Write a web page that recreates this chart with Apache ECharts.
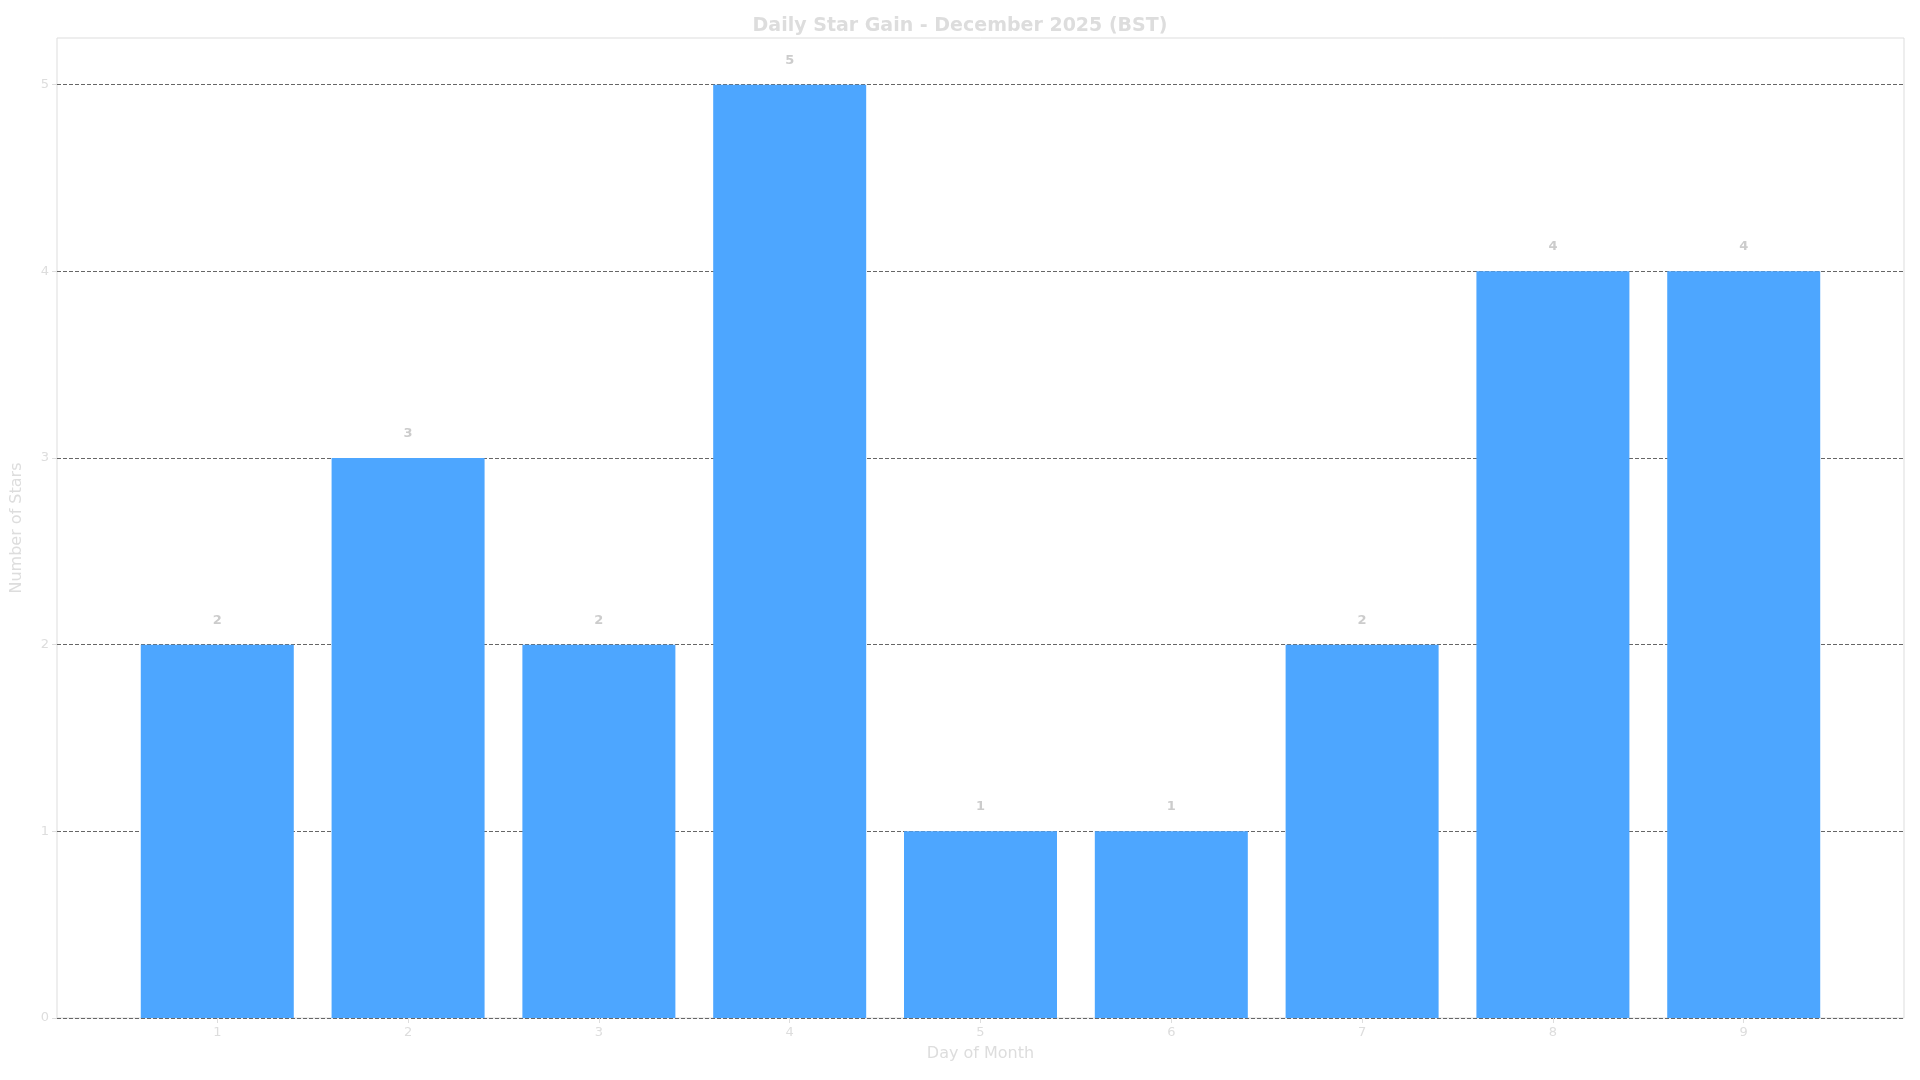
<!DOCTYPE html>
<html>
<head>
<meta charset="utf-8">
<script src="https://cdn.jsdelivr.net/npm/echarts@6/dist/echarts.min.js"></script>
<style>html,body{margin:0;padding:0;background:#fff}#app{width:1920px;height:1080px}</style>
</head>
<body>
<div id="app"></div>
<script>
var days = [1, 2, 3, 4, 5, 6, 7, 8, 9];
var stars = [2, 3, 2, 5, 1, 1, 2, 4, 4];
var yTicks = [0, 1, 2, 3, 4, 5];

var chart = echarts.init(document.getElementById('app'));
var option = {
    animation: false,
    backgroundColor: '#ffffff',
    title: {
        text: 'Daily Star Gain - December 2025 (BST)',
        left: 'center',
        top: 12,
        textStyle: { color: '#dddddd', fontSize: 19, fontWeight: 'bold', fontFamily: 'DejaVu Sans' }
    },
    grid: { left: 57, right: 16, top: 38, bottom: 62, show: true, borderColor: '#dddddd', borderWidth: 1 },
    xAxis: {
        type: 'value',
        min: 0.16,
        max: 9.84,
        interval: 1,
        name: 'Day of Month',
        nameLocation: 'middle',
        nameGap: 28,
        nameTextStyle: { color: '#dddddd', fontSize: 16, fontFamily: 'DejaVu Sans' },
        axisLine: { show: false },
        axisTick: { show: true, lineStyle: { color: '#dddddd' } },
        splitLine: { show: false },
        axisLabel: {
            color: '#dddddd', fontSize: 13, fontFamily: 'DejaVu Sans',
            customValues: days
        },
        axisTick: { customValues: days, lineStyle: { color: '#dddddd' } }
    },
    yAxis: {
        type: 'value',
        min: 0,
        max: 5.25,
        interval: 1,
        name: 'Number of Stars',
        nameLocation: 'middle',
        nameGap: 32,
        nameTextStyle: { color: '#dddddd', fontSize: 16, fontFamily: 'DejaVu Sans' },
        axisLine: { show: false },
        axisTick: { show: true, customValues: yTicks, lineStyle: { color: '#dddddd' } },
        axisLabel: { color: '#dddddd', fontSize: 13, fontFamily: 'DejaVu Sans', customValues: yTicks },
        splitLine: { show: true, lineStyle: { color: '#666666', type: 'dashed', width: 1 } }
    },
    series: [{
        type: 'bar',
        barWidth: 153,
        data: days.map(function (d, i) { return [d, stars[i]]; }),
        itemStyle: { color: '#4da6ff' },
        label: {
            show: true,
            position: 'top',
            distance: 18,
            color: '#cccccc',
            fontWeight: 'bold',
            fontSize: 13,
            fontFamily: 'DejaVu Sans',
            formatter: function (p) { return p.value[1]; }
        }
    }]
};
chart.setOption(option);
</script>
</body>
</html>
